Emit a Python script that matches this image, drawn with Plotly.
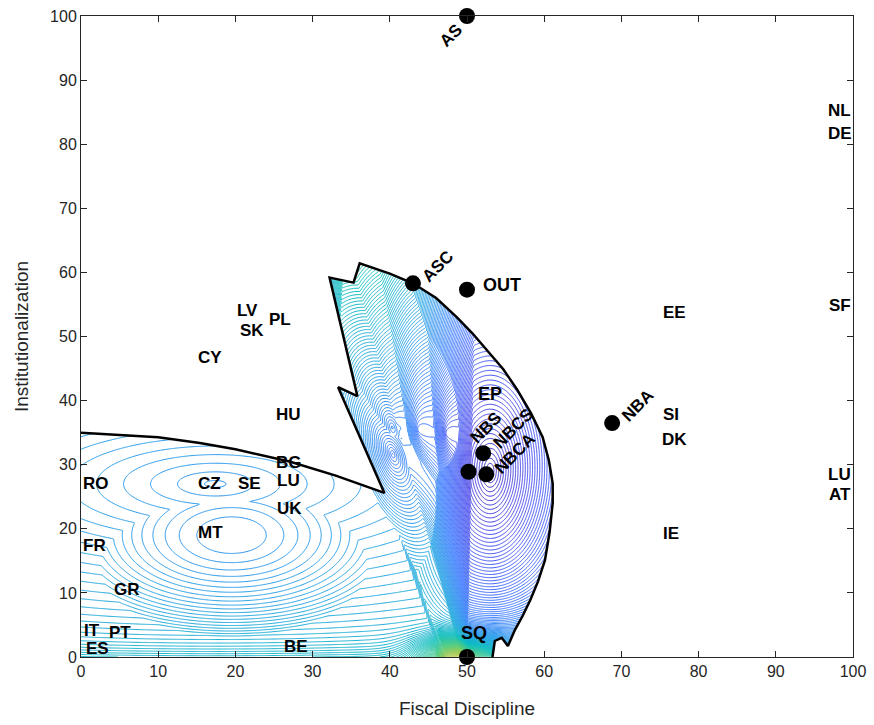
import numpy as np
import plotly.graph_objects as go

# ---------------- data ----------------
country_names = ["NL", "DE", "SF", "LU", "AT", "EE", "SI", "DK", "IE",
                 "LV", "PL", "SK", "CY", "HU", "BG", "LU", "UK", "CZ", "SE",
                 "RO", "MT", "FR", "GR", "IT", "PT", "ES", "BE"]
country_x = [98.3, 98.3, 98.3, 98.3, 98.3, 76.9, 76.4, 76.9, 76.4,
             21.6, 25.8, 22.2, 16.7, 26.9, 27.0, 26.9, 27.0, 16.7, 21.8,
             1.9, 16.8, 1.7, 5.9, 1.4, 5.1, 2.1, 27.9]
country_y = [85.3, 81.7, 54.9, 28.5, 25.3, 53.8, 37.8, 33.9, 19.3,
             54.0, 52.6, 50.9, 46.8, 37.9, 30.3, 27.5, 23.2, 27.1, 27.1,
             27.1, 19.4, 17.4, 10.6, 4.2, 3.8, 1.25, 1.6]

outcome_names = ["AS", "ASC", "OUT", "NBA", "NBCS", "NBS", "NBCA", "SQ"]
outcome_x = [50.0, 43.0, 50.0, 68.8, 52.1, 50.2, 52.5, 50.0]
outcome_y = [100.0, 58.3, 57.3, 36.5, 31.8, 28.9, 28.5, 0.0]

label_names = ["AS", "ASC", "OUT", "NBA", "NBCS", "NBS", "NBCA", "SQ", "EP"]
label_x = [47.9, 46.2, 54.5, 72.1, 56.0, 52.5, 56.2, 50.9, 53.0]
label_y = [97.0, 60.9, 58.0, 39.3, 35.7, 35.8, 31.8, 3.8, 41.1]
label_angle = [-45, -45, 0, -45, -45, -45, -45, 0, 0]

# boundary of the acceptable region (outline of the contour field)
region_x = [0, 10, 15.4, 20, 27, 33, 39.3, 33.3, 35.8, 32.2, 35.3, 36.1, 40, 43,
            46, 48.7, 50.7, 52.6, 54.7, 56.5, 58.3, 59.8, 60.6, 61.1, 61.1, 60.7,
            60.1, 59.2, 58.2, 57.2, 56.2, 55.3, 54.5, 53.6, 53.3]
region_y = [35, 34.3, 33.4, 32.4, 30.5, 28.3, 25.6, 42.1, 40.7, 59.2, 58.4, 61.4, 59.8, 58.3,
            56, 53, 50.5, 47.9, 44.9, 41.7, 38, 34.3, 30.7, 27.1, 24, 19.5,
            15.1, 11.8, 8.9, 6.4, 4.2, 1.7, 3.0, 2.5, 0]

# left edge of the fan (separates the left lobe from the fan)
fan_edge_y = [2.0, 25.6, 42.1, 59.2]
fan_edge_x = [46.0, 39.3, 33.3, 32.2]

# utility basins of the left lobe: centre, level, slope, scales, power
left_bx = [17.4, 19.5]
left_by = [27.0, 19.0]
left_level = [32.3, 32.0]
left_slope = [0.143, 0.042]
left_sx = [1.0, 1.05]
left_sy = [1 / 2.6, 1 / 1.5]
left_pow = [1.0, 1.7]

# central basin (NBCA area)
core_x, core_y, core_level, core_slope, core_sy = 53.0, 29.0, 4.0, 1.6, 2.4

# fan lobes radiating from below the status quo
fan_origin = (50.0, -3.0)
fan_angle = [105.5, 104.0, 99.3, 94.0, 89.0]
fan_center_r = [36.0, 40.0, 39.0, 38.0, 37.0]
fan_level = [4.0, 6.0, 7.0, 8.0, 10.0]
fan_slope = 2.4
fan_stretch = 2.5
fan_tilt = 1.6   # level gain per degree towards the left of the fan

# ---------------- field ----------------
xs = np.arange(0, 62.6, 0.125)
ys = np.arange(0, 62.6, 0.125)
X, Y = np.meshgrid(xs, ys)


def ell(cx, cy, sx, sy):
    return np.sqrt(((X - cx) / sx) ** 2 + ((Y - cy) / sy) ** 2)


zl = np.minimum.reduce([left_level[i] + left_slope[i] *
                        ell(left_bx[i], left_by[i], left_sx[i], left_sy[i]) ** left_pow[i]
                        for i in range(2)])
x_edge = np.interp(Y, fan_edge_y, fan_edge_x)
zl = zl + 4.0 * np.clip(X - x_edge, 0, None)

zc = core_level + core_slope * ell(core_x, core_y, 1, core_sy)
dx = X - fan_origin[0]
dy = Y - fan_origin[1]
theta = np.degrees(np.arctan2(dy, dx))
lobes = [zc]
for a, rc, c in zip(fan_angle, fan_center_r, fan_level):
    t = np.radians(a)
    u = -dx * np.sin(t) + dy * np.cos(t)
    v = dx * np.cos(t) + dy * np.sin(t) - rc
    lobes.append(c + fan_slope * np.sqrt(u ** 2 + (v / fan_stretch) ** 2))
tilt = fan_tilt * np.clip(theta - 89, 0, 14) * (1 - 0.6 * np.exp(-Y / 15.0))
zfan = np.minimum.reduce(lobes) + tilt + 14 * np.exp(-Y / 7.0)

zs = 38.5 + 0.75 * ell(40.2, 17.5, 1, 1.6)
Z = np.minimum.reduce([zl, zfan, zs])
Z = Z + 3.5 * np.exp(-Y / 2.5) + 22 * np.exp(-((X - 49.5) / 5.0) ** 2 - (Y / 3.0) ** 2)

# mask outside region
px = [-1, -1] + region_x + [53.3]
py = [-1, 35] + region_y + [-1]
inside = np.zeros(X.shape, dtype=bool)
n = len(px)
for i in range(n):
    j = (i - 1) % n
    xi, yi, xj, yj = px[i], py[i], px[j], py[j]
    cond = ((yi > Y) != (yj > Y))
    with np.errstate(divide="ignore", invalid="ignore"):
        xint = (xj - xi) * (Y - yi) / (yj - yi + 1e-12) + xi
    inside ^= cond & (X < xint)
Z = np.where(inside, Z, np.nan).astype(np.float32)

parula = [
    [0.0, "rgb(62,38,168)"],
    [0.111, "rgb(71,71,235)"],
    [0.238, "rgb(56,117,254)"],
    [0.365, "rgb(35,160,229)"],
    [0.492, "rgb(11,189,189)"],
    [0.619, "rgb(87,204,122)"],
    [0.746, "rgb(197,194,42)"],
    [0.873, "rgb(254,201,52)"],
    [1.0, "rgb(249,251,21)"],
]

fig = go.Figure()
fig.add_trace(go.Contour(
    x=xs, y=ys, z=Z, colorscale=parula, zmin=0, zmax=100,
    contours=dict(coloring="lines", start=0, end=100, size=0.5),
    line=dict(width=1), showscale=False, connectgaps=False, hoverinfo="skip",
))
fig.add_trace(go.Scatter(
    x=region_x, y=region_y, mode="lines",
    line=dict(color="black", width=2.5), hoverinfo="skip", showlegend=False,
))
fig.add_trace(go.Scatter(
    x=outcome_x, y=outcome_y, mode="markers", cliponaxis=False,
    marker=dict(color="black", size=16), text=outcome_names, showlegend=False,
))

font_lab = dict(family="Liberation Sans, Arial, sans-serif", size=17, color="black")
for name, x, y in zip(country_names, country_x, country_y):
    fig.add_annotation(x=x, y=y, text="<b>%s</b>" % name, showarrow=False,
                       xanchor="center", yanchor="middle", font=font_lab)
for name, x, y, a in zip(label_names, label_x, label_y, label_angle):
    fig.add_annotation(x=x, y=y, text="<b>%s</b>" % name, showarrow=False, textangle=a,
                       xanchor="center", yanchor="middle",
                       font=dict(family="Liberation Sans, Arial, sans-serif",
                                 size=17 if a else 18, color="black"))

axis_common = dict(
    range=[0, 100], tickmode="array", tickvals=list(range(0, 101, 10)),
    ticks="inside", ticklen=6, tickcolor="#262626", mirror="ticks", showline=True,
    linecolor="#262626", linewidth=1, showgrid=False, zeroline=False, automargin=False,
    tickfont=dict(family="Liberation Sans, Arial, sans-serif", size=16, color="#262626"),
)
fig.update_xaxes(**axis_common, title=dict(text="Fiscal Discipline", standoff=22,
                 font=dict(family="Liberation Sans, Arial, sans-serif", size=19, color="#262626")))
fig.update_yaxes(**axis_common, title=dict(text="Institutionalization", standoff=16,
                 font=dict(family="Liberation Sans, Arial, sans-serif", size=19, color="#262626")))
fig.update_layout(
    width=874, height=725, margin=dict(l=81, r=21, t=16, b=68),
    paper_bgcolor="white", plot_bgcolor="white", showlegend=False,
)
fig.write_html("out.html")
